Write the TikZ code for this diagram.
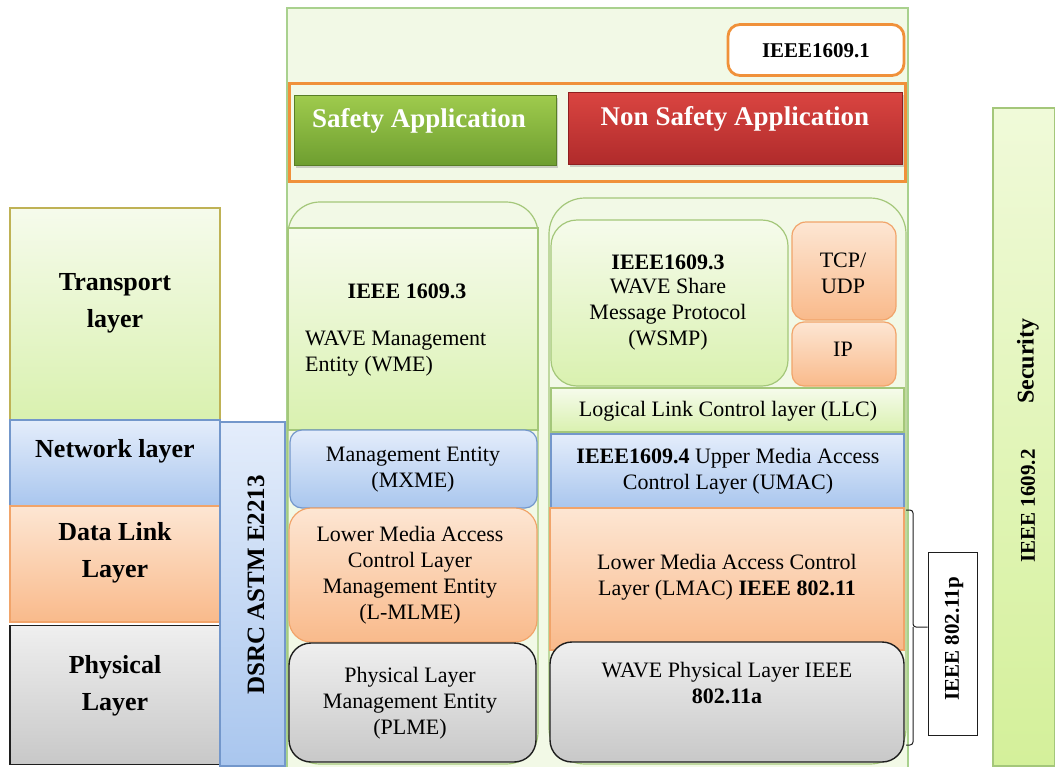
\documentclass[tikz,border=0pt]{standalone}
\usepackage{fontspec}
\setmainfont{Liberation Serif}
\usetikzlibrary{shadows}

\definecolor{paleG}{HTML}{F2F9E6}
\definecolor{mainB}{HTML}{A9D18E}
\definecolor{gTop}{HTML}{F6FBEC}
\definecolor{gBot}{HTML}{D9F1AF}
\definecolor{gBrd}{HTML}{A4C77A}
\definecolor{bTop}{HTML}{E4EDFB}
\definecolor{bBot}{HTML}{A9C6EE}
\definecolor{bBrd}{HTML}{7397CB}
\definecolor{oTop}{HTML}{FDE6D3}
\definecolor{oBot}{HTML}{F9BA8B}
\definecolor{oBrd}{HTML}{F1A46A}
\definecolor{kTop}{HTML}{EFEFEF}
\definecolor{kBot}{HTML}{C8C8C8}
\definecolor{kBrd}{HTML}{1E1E1E}
\definecolor{sfTop}{HTML}{9FCB4D}
\definecolor{sfBot}{HTML}{6E9E30}
\definecolor{nsTop}{HTML}{DA4541}
\definecolor{nsBot}{HTML}{B02B2B}
\definecolor{nsBrd}{HTML}{8E1F1F}
\definecolor{orFrame}{HTML}{F0913A}
\definecolor{secTop}{HTML}{F0FAD9}
\definecolor{secBot}{HTML}{D4F09A}

\tikzset{
  greenbox/.style={draw=gBrd, line width=1.2pt, top color=gTop, bottom color=gBot},
  bluebox/.style={draw=bBrd, line width=1.2pt, top color=bTop, bottom color=bBot},
  orangebox/.style={draw=oBrd, line width=1.2pt, top color=oTop, bottom color=oBot},
  graybox/.style={draw=kBrd, line width=1.4pt, top color=kTop, bottom color=kBot},
  body/.style={font=\fontsize{22}{26}\selectfont, align=center, inner sep=0pt},
  head/.style={font=\fontsize{26}{37}\selectfont\bfseries, align=center, inner sep=0pt},
  vtext/.style={font=\fontsize{#1}{#1}\selectfont\bfseries, rotate=90, inner sep=0pt},
}

\begin{document}
\begin{tikzpicture}[x=1pt, y=-1pt]
\useasboundingbox (0,0) rectangle (1055,766);

% ---- left layer stack ----
\node[greenbox, draw=gBrd!70!orange, minimum width=210, minimum height=212, inner sep=0pt] (transport) at (115,314) {};
\node[bluebox, minimum width=210, minimum height=86, inner sep=0pt] (network) at (115,463) {};
\node[orangebox, minimum width=210, minimum height=116, inner sep=0pt] (datalink) at (115,564) {};
\node[graybox, minimum width=210, minimum height=139, inner sep=0pt] (physical) at (115,695) {};
\node[head] (tTransport) at (115,303) {Transport\\layer};
\node[head] (tNetwork) at (115,451) {Network layer};
\node[head] (tDatalink) at (115,553) {Data Link\\Layer};
\node[head] (tPhysical) at (115,686) {Physical\\Layer};

% ---- DSRC column ----
\node[bluebox, minimum width=65, minimum height=344, inner sep=0pt] (dsrc) at (252.5,594) {};
\node[vtext=25] (tDsrc) at (256,585) {DSRC ASTM E2213};

% ---- main WAVE block ----
\node[draw=mainB, line width=1.3pt, fill=paleG, minimum width=621, minimum height=760, inner sep=0pt] (wave) at (597.5,388) {};

\node[draw=orFrame, line width=2.8pt, fill=white, rounded corners=12pt, minimum width=176, minimum height=51, inner sep=0pt] (ieee1) at (816,50) {};
\node[font=\fontsize{21}{24}\selectfont\bfseries, inner sep=0pt] (tIeee1) at (816,51) {IEEE1609.1};

\node[draw=orFrame, line width=2.6pt, minimum width=616, minimum height=98, inner sep=0pt] (apps) at (597.5,132.5) {};
\node[draw=sfBot!80!black, line width=0.6pt, top color=sfTop, bottom color=sfBot, drop shadow={opacity=0.35, shadow xshift=2pt, shadow yshift=-3pt},
      minimum width=262, minimum height=70, inner sep=0pt] (safety) at (425,130) {};
\node[font=\fontsize{27}{30}\selectfont\bfseries, text=white, inner sep=0pt] (tSafety) at (419,121) {Safety Application};
\node[draw=nsBrd, line width=0.8pt, top color=nsTop, bottom color=nsBot, drop shadow={opacity=0.35, shadow xshift=2pt, shadow yshift=-3pt},
      minimum width=334, minimum height=72, inner sep=0pt] (nonsafety) at (735,128) {};
\node[font=\fontsize{27}{30}\selectfont\bfseries, text=white, inner sep=0pt] (tNonsafety) at (735,119) {Non Safety Application};

% ---- management column ----
\node[draw=gBrd, line width=1.2pt, fill=paleG, rounded corners=32pt, minimum width=250, minimum height=562, inner sep=0pt] (mgmt) at (413,483) {};
\node[greenbox, minimum width=250, minimum height=202, inner sep=0pt] (wme) at (413,329) {};
\node[body, font=\fontsize{22}{26}\selectfont\bfseries] (tWmeStd) at (407,291) {IEEE 1609.3};
\node[body, align=left, anchor=west] (tWme) at (305,354) {WAVE Management\\Entity (WME)};
\node[bluebox, rounded corners=12pt, minimum width=247, minimum height=78, inner sep=0pt] (mxme) at (413.5,469) {};
\node[body] (tMxme) at (413,470) {Management Entity\\(MXME)};
\node[orangebox, rounded corners=22pt, minimum width=248, minimum height=134, inner sep=0pt] (lmlme) at (413,575) {};
\node[body] (tLmlme) at (410,575) {Lower Media Access\\Control Layer\\Management Entity\\(L-MLME)};
\node[graybox, rounded corners=22pt, minimum width=247, minimum height=119, inner sep=0pt] (plme) at (412.5,702.5) {};
\node[body] (tPlme) at (410,703) {Physical Layer\\Management Entity\\(PLME)};

% ---- data plane column ----
\node[draw=gBrd, line width=1.2pt, fill=paleG, rounded corners=36pt, minimum width=357, minimum height=566, inner sep=0pt] (dplane) at (727.5,481) {};
\node[greenbox, rounded corners=26pt, minimum width=237, minimum height=166, inner sep=0pt] (wsmp) at (669.5,303) {};
\node[body] (tWsmp) at (668,303) {\textbf{IEEE1609.3}\\[-2pt]WAVE Share\\Message Protocol\\(WSMP)};
\node[orangebox, rounded corners=14pt, minimum width=104, minimum height=98, inner sep=0pt] (tcp) at (844,271) {};
\node[body] (tTcp) at (843,273) {TCP/\\UDP};
\node[orangebox, rounded corners=12pt, minimum width=104, minimum height=64, inner sep=0pt] (ip) at (844,354) {};
\node[body] (tIp) at (843,349) {IP};
\node[greenbox, minimum width=353, minimum height=44, inner sep=0pt] (llc) at (727.5,410) {};
\node[body] (tLlc) at (728,411) {Logical Link Control layer (LLC)};
\node[bluebox, minimum width=353, minimum height=74, inner sep=0pt] (umac) at (727.5,471) {};
\node[body] (tUmac) at (728,471) {\textbf{IEEE1609.4} Upper Media Access\\Control Layer (UMAC)};
\node[orangebox, minimum width=354, minimum height=142, inner sep=0pt] (lmac) at (727,579) {};
\node[body] (tLmac) at (727,577) {Lower Media Access Control\\Layer (LMAC) \textbf{IEEE 802.11}};
\node[graybox, rounded corners=22pt, minimum width=354, minimum height=120, inner sep=0pt] (phy) at (727,702) {};
\node[body] (tPhy) at (727,683) {WAVE Physical Layer IEEE\\\textbf{802.11a}};

% ---- 802.11p bracket ----
\node[draw=kBrd, line width=1pt, fill=white, minimum width=49, minimum height=183, inner sep=0pt] (p80211) at (952.5,643.5) {};
\node[vtext=21] (tP80211) at (954,639) {IEEE 802.11p};
\coordinate (brTop) at (906,510);
\coordinate (brBot) at (906,745);
\draw[kBrd, line width=1pt, rounded corners=3pt] (brTop) -- (913,510) -- (913,627) -- (p80211.west |- 0,627);
\draw[kBrd, line width=1pt, rounded corners=3pt] (brBot) -- (913,745) -- (913,627);

% ---- security column ----
\node[draw=gBrd, line width=1.2pt, top color=secTop, bottom color=secBot, minimum width=62, minimum height=658, inner sep=0pt] (security) at (1024,437) {};
\node[vtext=24] (tSecurity) at (1028,361) {Security};
\node[vtext=21] (tSecStd) at (1028,506) {IEEE 1609.2};

\end{tikzpicture}
\end{document}
